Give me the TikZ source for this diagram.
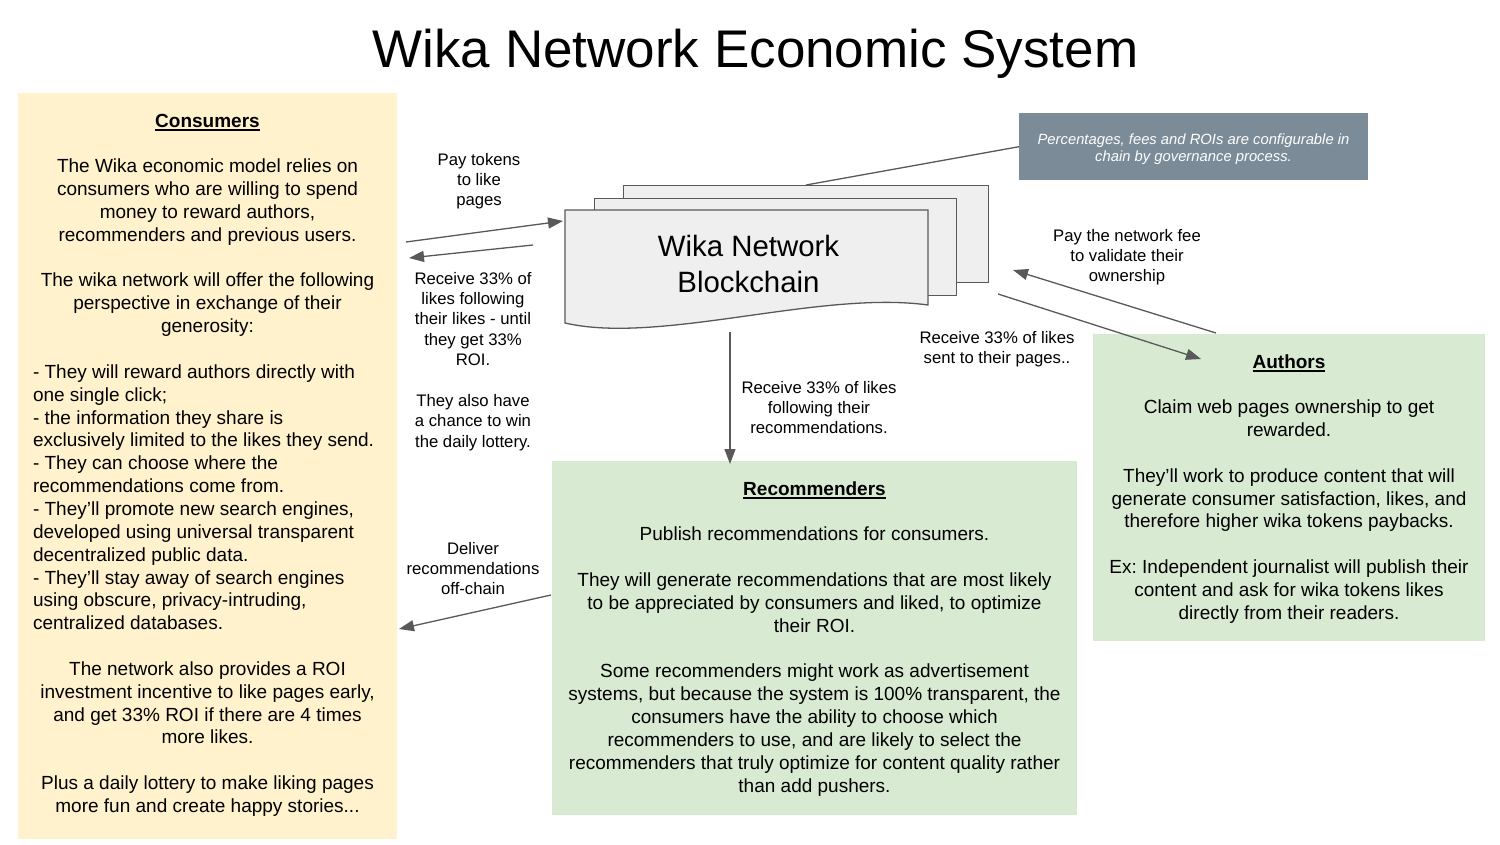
\documentclass[tikz,border=0pt]{standalone}
\usepackage{fontspec}
\setmainfont{Liberation Sans}
\usetikzlibrary{arrows.meta}
\frenchspacing
\definecolor{cyellow}{HTML}{FFF2CC}
\definecolor{cgreen}{HTML}{D9EAD3}
\definecolor{cnote}{HTML}{7B8C98}
\definecolor{cdoc}{HTML}{EFEFEF}
\definecolor{cline}{HTML}{595959}
\newcommand{\mybody}{\fontsize{19pt}{22.85pt}\selectfont}
\newcommand{\mylabel}{\fontsize{16.7pt}{20.4pt}\selectfont}
\newcommand{\mynote}{\fontsize{14.8pt}{17.7pt}\selectfont\itshape}
\newcommand{\mydoc}{\fontsize{29.4pt}{36pt}\selectfont}
\newcommand{\mytitle}{\fontsize{53pt}{60pt}\selectfont}
\newcommand{\myul}[1]{\leavevmode\vtop{\hbox{#1}\kern2pt\hrule height1.5pt}}
\newcommand{\tb}[2]{\begin{minipage}[t]{#1}\centering\leavevmode #2\end{minipage}}
\tikzset{
  box/.style={inner sep=0pt, anchor=north west},
  txt/.style={inner sep=0pt, anchor=base},
  docsheet/.style={draw=cline, line width=1.3pt, fill=cdoc, inner sep=0pt, anchor=north west},
  arr/.style={draw=cline, line width=1.3pt, -{Triangle[length=15pt,width=11pt]}},
  plainline/.style={draw=cline, line width=1.3pt}
}
\begin{document}
\begin{tikzpicture}[x=1pt,y=-1pt]
\useasboundingbox (0,0) rectangle (1500,844);
\fill[white] (0,0) rectangle (1500,844);

% title
\node[txt] (title) at (755.5,67) {\mytitle Wika Network Economic System};

% boxes
\node[box, fill=cyellow, minimum width=379pt, minimum height=746pt] (cons) at (18,93) {};
\node[box, fill=cgreen, minimum width=525pt, minimum height=354pt] (recs) at (552,461) {};
\node[box, fill=cgreen, minimum width=392pt, minimum height=307pt] (auth) at (1093,334) {};
\node[box, fill=cnote, minimum width=349pt, minimum height=67pt] (note) at (1019,113) {};

% consumers text
\node[txt] (constext) at (207.5,127) {\begin{minipage}[t]{379pt}\mybody\centering
\myul{\textbf{Consumers}}\\[\baselineskip]
The Wika economic model relies on\\
consumers who are willing to spend\\
money to reward authors,\\
recommenders and previous users.\par
\vspace{\baselineskip}
The wika network will offer the following\\
perspective in exchange of their\\
generosity:\par
\vspace{\baselineskip}
{\raggedright\leftskip=15pt\relax
- They will reward authors directly with\\
one single click;\\
- the information they share is\\
exclusively limited to the likes they send.\\
- They can choose where the\\
recommendations come from.\\
- They’ll promote new search engines,\\
developed using universal transparent\\
decentralized public data.\\
- They’ll stay away of search engines\\
using obscure, privacy-intruding,\\
centralized databases.\par}
\vspace{\baselineskip}
The network also provides a ROI\\
investment incentive to like pages early,\\
and get 33\% ROI if there are 4 times\\
more likes.\par
\vspace{\baselineskip}
Plus a daily lottery to make liking pages\\
more fun and create happy stories...
\end{minipage}};

% recommenders text
\node[txt] (recstext) at (814.5,495) {\tb{525pt}{\mybody
\myul{\textbf{Recommenders}}\\[\baselineskip]
Publish recommendations for consumers.\\[\baselineskip]
They will generate recommendations that are most likely\\
to be appreciated by consumers and liked, to optimize\\
their ROI.\\[\baselineskip]
Some recommenders might work as advertisement\\
systems, but because the system is 100\% transparent, the\\
consumers have the ability to choose which\\
recommenders to use, and are likely to select the\\
recommenders that truly optimize for content quality rather\\
than add pushers.}};

% authors text
\node[txt] (authtext) at (1289,368) {\tb{392pt}{\mybody
\myul{\textbf{Authors}}\\[\baselineskip]
Claim web pages ownership to get\\
rewarded.\\[\baselineskip]
They’ll work to produce content that will\\
generate consumer satisfaction, likes, and\\
therefore higher wika tokens paybacks.\\[\baselineskip]
Ex: Independent journalist will publish their\\
content and ask for wika tokens likes\\
directly from their readers.}};

% note text
\node[txt] (notetext) at (1193.5,144) {\tb{349pt}{\mynote\color{white}
Percentages, fees and ROIs are configurable in\\
chain by governance process.}};

% blockchain documents
\node[docsheet, minimum width=365pt, minimum height=97pt] (docback) at (623,185) {};
\node[docsheet, minimum width=362pt, minimum height=97pt] (docmid) at (594,198) {};
\draw[draw=cline, line width=1.3pt, fill=cdoc, line join=miter]
  (565,210) -- (928,210) -- (928,305)
  .. controls (820,290) and (660,345) .. (565,323) -- cycle;
\node[txt] (chain) at (748.5,256) {\tb{340pt}{\mydoc Wika Network\\Blockchain}};

% connector coordinates
\coordinate (c1a) at (406,242);
\coordinate (c1b) at (563,221);
\coordinate (c2a) at (533,245);
\coordinate (c2b) at (409,258);
\coordinate (c3a) at (730,332);
\coordinate (c3b) at (730,464);
\coordinate (c4a) at (551,595);
\coordinate (c4b) at (399,629);
\coordinate (c5a) at (1216,333);
\coordinate (c5b) at (1013,270);
\coordinate (c6a) at (998,294);
\coordinate (c6b) at (1201,359);
\coordinate (c7b) at (806,185);

\draw[arr] (c1a) -- (c1b);
\draw[arr] (c2a) -- (c2b);
\draw[arr] (c3a) -- (c3b);
\draw[arr] (c4a) -- (c4b);
\draw[arr] (c5a) -- (c5b);
\draw[arr] (c6a) -- (c6b);
\draw[plainline] (note.west) -- (c7b);

% connector labels
\node[txt] (l1) at (479,165) {\tb{200pt}{\mylabel Pay tokens\\to like\\pages}};
\node[txt] (l2) at (473,284) {\tb{200pt}{\mylabel Receive 33\% of\\likes following\\their likes - until\\they get 33\%\\ROI.\\[\baselineskip]They also have\\a chance to win\\the daily lottery.}};
\node[txt] (l3) at (819,393) {\tb{220pt}{\mylabel Receive 33\% of likes\\following their\\recommendations.}};
\node[txt] (l4) at (1127,241) {\tb{220pt}{\mylabel Pay the network fee\\to validate their\\ownership}};
\node[txt] (l5) at (997,343) {\tb{220pt}{\mylabel Receive 33\% of likes\\sent to their pages..}};
\node[txt] (l6) at (473,554) {\tb{200pt}{\mylabel Deliver\\recommendations\\off-chain}};
\end{tikzpicture}
\end{document}
